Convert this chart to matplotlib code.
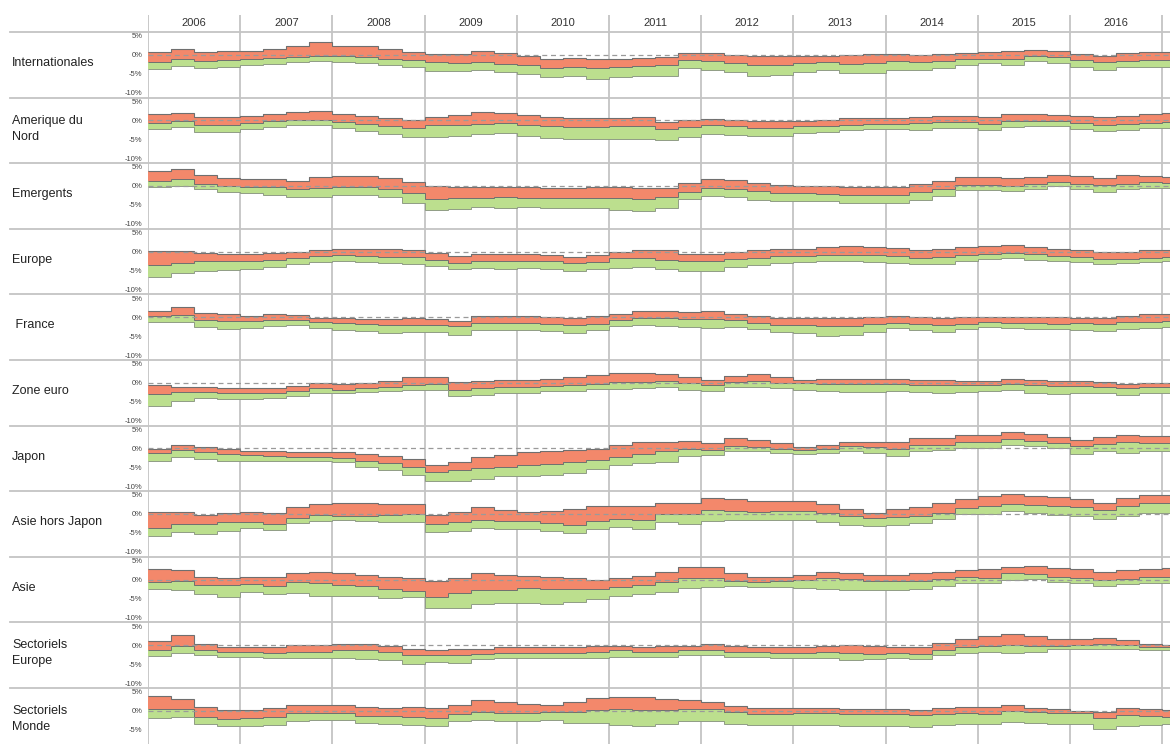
import numpy as np
import matplotlib
matplotlib.use("Agg")
import matplotlib.pyplot as plt
from matplotlib.transforms import blended_transform_factory
from matplotlib.lines import Line2D

plt.rcParams['font.family'] = ['Liberation Sans Narrow', 'Liberation Sans', 'DejaVu Sans']

years = list(range(2006, 2017))
ytick_vals = [5, 0, -5, -10]
ytick_labels = ['5%', '0%', '-5%', '-10%']

names = ['Internationales', 'Amerique du\nNord', 'Emergents', 'Europe', ' France',
         'Zone euro', 'Japon', 'Asie hors Japon', 'Asie', 'Sectoriels\nEurope',
         'Sectoriels\nMonde']

# quarterly values 2006Q1 .. 2017Q1 : top of salmon band, salmon/green boundary, bottom of green band
internationales_top = [0.8, 1.4, 0.6, 0.9, 0.9, 1.4, 2.2, 3.3, 2.3, 2.3, 1.6, 0.8, 0.2, 0.2, 0.9, 0.4,
                       -0.4, -1.0, -0.8, -1.1, -1.1, -0.9, -0.6, 0.4, 0.4, 0.0, -0.4, -0.4, -0.4, -0.4,
                       -0.1, 0.1, 0.2, 0.0, 0.1, 0.5, 0.6, 0.9, 1.2, 0.9, 0.2, -0.3, 0.4, 0.7, 0.7]
internationales_mid = [-1.8, -1.2, -1.6, -1.3, -1.0, -0.8, -0.6, -0.3, -0.4, -0.6, -1.0, -1.5, -1.8, -2.1,
                       -1.9, -2.4, -2.8, -3.4, -3.3, -3.6, -3.2, -2.9, -2.7, -1.3, -1.7, -2.3, -2.8, -2.6,
                       -2.2, -1.9, -2.5, -2.3, -1.6, -1.8, -1.6, -1.0, -1.0, -1.1, -0.3, -0.7, -1.3, -1.8,
                       -1.6, -1.5, -1.4]
internationales_bot = [-3.8, -3.0, -3.6, -3.2, -2.7, -2.4, -2.0, -1.6, -1.8, -2.1, -2.6, -3.2, -4.2, -4.2,
                       -3.9, -4.5, -5.0, -5.8, -5.6, -6.3, -5.9, -5.7, -5.6, -3.5, -3.9, -4.6, -5.5, -5.4,
                       -4.5, -4.1, -4.8, -4.7, -3.9, -4.0, -3.6, -2.7, -2.3, -2.6, -1.7, -2.2, -3.3, -4.0,
                       -3.2, -3.3, -3.2]

amerique_top = [1.8, 2.0, 0.8, 0.8, 1.1, 1.8, 2.2, 2.5, 1.7, 1.2, 0.6, 0.1, 0.8, 1.5, 2.1, 1.9,
                1.3, 1.0, 0.6, 0.6, 0.6, 0.8, -0.4, 0.0, 0.4, 0.0, -0.3, -0.2, -0.1, 0.2,
                0.5, 0.7, 0.7, 0.8, 1.1, 1.2, 0.9, 1.8, 1.6, 1.5, 1.1, 0.8, 1.1, 1.7, 1.9]
amerique_mid = [-0.6, -0.2, -1.2, -1.1, -0.8, -0.2, 0.2, 0.2, -0.4, -0.9, -1.5, -2.0, -1.3, -1.2, -0.9, -0.8,
                -1.2, -1.5, -1.7, -1.8, -1.4, -1.6, -2.2, -1.8, -1.3, -1.6, -1.9, -1.9, -1.6, -1.4,
                -1.2, -1.0, -0.9, -0.8, -0.5, -0.4, -1.0, -0.3, -0.1, -0.2, -0.8, -1.2, -1.0, -0.6, -0.4]
amerique_bot = [-2.4, -1.8, -3.1, -3.0, -2.4, -1.8, -1.3, -1.2, -1.9, -2.8, -3.6, -4.5, -4.4, -4.2, -3.6, -3.4,
                -4.0, -4.6, -5.0, -5.0, -4.8, -4.9, -5.3, -4.3, -3.5, -3.9, -4.1, -4.0, -3.3, -3.0,
                -2.6, -2.4, -2.4, -2.5, -2.1, -1.9, -2.5, -1.8, -1.6, -1.6, -2.2, -2.9, -2.6, -2.1, -2.0]

emergents_top = [3.9, 4.6, 2.9, 2.2, 1.9, 1.8, 1.3, 2.3, 2.6, 2.6, 2.2, 1.0, -0.1, -0.4, -0.3, -0.3,
                 -0.3, -0.6, -0.5, -0.3, -0.3, -0.5, -0.5, 0.9, 1.8, 1.6, 0.7, 0.2, 0.0, -0.1,
                 -0.3, -0.4, -0.2, 0.4, 1.3, 2.4, 2.4, 2.0, 2.4, 3.0, 2.5, 2.0, 2.8, 2.7, 2.4]
emergents_mid = [1.4, 1.8, 0.6, 0.0, -0.3, -0.4, -0.9, -0.6, -0.2, -0.2, -0.8, -1.9, -3.5, -3.3, -3.1, -3.0,
                 -3.2, -3.3, -3.3, -3.2, -3.3, -3.5, -3.0, -1.6, -0.6, -0.9, -1.4, -1.8, -1.9, -2.2,
                 -2.3, -2.3, -2.3, -1.6, -0.7, 0.2, 0.2, -0.1, 0.5, 1.0, 0.6, 0.2, 0.6, 1.0, 0.9]
emergents_bot = [-0.2, 0.1, -0.9, -1.5, -1.9, -2.3, -2.9, -2.8, -2.4, -2.4, -3.0, -4.5, -6.4, -6.2, -5.6, -5.8,
                 -5.6, -5.9, -5.9, -5.7, -6.3, -6.6, -5.9, -3.4, -2.7, -3.0, -3.6, -4.0, -3.9, -4.1,
                 -4.4, -4.4, -4.5, -3.6, -2.6, -1.1, -1.1, -1.4, -0.7, -0.1, -0.9, -1.5, -0.9, -0.6, -0.5]

europe_top = [0.2, 0.1, -0.4, -0.6, -0.6, -0.4, 0.0, 0.4, 0.7, 0.6, 0.8, 0.3, -0.3, -1.1, -0.6, -0.6,
              -0.7, -0.9, -1.4, -1.0, -0.1, 0.5, 0.4, -0.6, -0.7, -0.1, 0.3, 0.6, 0.8, 1.3,
              1.4, 1.2, 0.9, 0.5, 0.6, 1.1, 1.4, 1.8, 1.2, 0.8, 0.4, -0.1, -0.1, 0.3, 0.5]
europe_mid = [-3.6, -2.9, -2.6, -2.5, -2.5, -2.2, -1.7, -1.2, -1.0, -1.1, -1.4, -1.4, -2.3, -2.9, -2.6, -2.6,
              -2.4, -2.6, -2.9, -2.7, -1.8, -1.7, -2.2, -2.6, -2.6, -2.0, -1.6, -1.2, -1.2, -0.9,
              -0.8, -0.9, -1.2, -1.6, -1.5, -1.0, -0.6, -0.4, -0.7, -1.1, -1.5, -1.9, -1.9, -1.6, -1.5]
europe_bot = [-6.6, -5.6, -5.1, -4.9, -4.6, -4.1, -3.4, -2.8, -2.6, -2.7, -3.0, -3.2, -3.9, -4.7, -4.4, -4.5,
              -4.4, -4.7, -5.1, -4.7, -4.3, -4.2, -4.5, -5.2, -5.2, -4.0, -3.5, -3.1, -2.8, -2.6,
              -2.6, -2.7, -3.0, -3.4, -3.4, -2.6, -1.9, -1.7, -2.1, -2.4, -2.7, -3.2, -3.1, -2.7, -2.6]

france_top = [1.6, 2.8, 1.1, 0.7, 0.4, 0.7, 0.5, -0.1, -0.1, -0.4, -0.6, -0.3, -0.6, -0.9, 0.2, 0.3,
              0.3, 0.1, -0.2, 0.3, 0.9, 1.5, 1.5, 1.3, 1.6, 0.8, 0.2, -0.1, -0.1, -0.3,
              -0.3, 0.0, 0.3, 0.1, -0.3, 0.1, 0.1, 0.1, 0.1, 0.1, -0.1, -0.3, 0.3, 0.8, 0.8]
france_mid = [0.3, 0.6, -0.7, -1.1, -1.0, -0.7, -0.7, -1.4, -1.6, -1.9, -2.1, -2.0, -2.1, -2.4, -1.6, -1.6,
              -1.6, -1.8, -2.0, -1.8, -0.7, -0.3, -0.3, -0.4, -0.5, -0.8, -1.5, -2.0, -2.0, -2.4,
              -2.3, -1.9, -1.6, -1.8, -2.0, -1.7, -1.2, -1.5, -1.6, -1.8, -1.6, -1.9, -1.4, -1.2, -1.1]
france_bot = [-1.4, -1.3, -2.5, -3.0, -2.8, -2.3, -2.1, -2.8, -3.3, -3.7, -4.2, -4.0, -4.0, -4.8, -3.4, -3.3,
              -3.4, -3.7, -4.1, -3.4, -2.4, -2.0, -2.3, -2.7, -2.9, -2.5, -3.1, -3.9, -4.2, -5.0,
              -4.6, -3.8, -2.9, -3.3, -3.8, -3.1, -2.5, -2.9, -3.0, -3.2, -3.3, -3.6, -3.1, -2.8, -2.7]

zone_euro_top = [-0.7, -1.0, -1.2, -1.3, -1.4, -1.3, -0.8, -0.1, -0.3, -0.1, 0.4, 1.4, 1.6, 0.2, 0.4, 0.7,
                 0.8, 1.1, 1.6, 2.0, 2.5, 2.6, 2.2, 1.5, 0.8, 1.9, 2.3, 1.5, 0.8, 1.0,
                 0.9, 0.9, 1.0, 0.8, 0.7, 0.5, 0.5, 1.1, 0.6, 0.4, 0.4, 0.2, -0.4, -0.1, 0.0]
zone_euro_mid = [-3.0, -2.5, -2.5, -2.6, -2.7, -2.6, -2.1, -1.5, -1.8, -1.4, -1.0, -0.5, -0.4, -1.8, -1.5, -1.1,
                 -1.2, -0.9, -0.6, -0.2, 0.1, 0.3, 0.5, -0.1, -0.5, 0.1, 0.4, -0.1, -0.1, -0.3,
                 -0.3, -0.4, -0.4, -0.5, -0.6, -0.6, -0.6, -0.2, -0.7, -0.9, -0.9, -1.0, -1.4, -1.1, -1.0]
zone_euro_bot = [-6.2, -4.8, -4.1, -4.2, -4.2, -4.0, -3.4, -2.8, -2.7, -2.5, -2.2, -1.8, -1.9, -3.5, -3.2, -2.8,
                 -2.7, -2.3, -2.1, -1.6, -1.6, -1.4, -1.2, -1.8, -2.3, -1.2, -1.2, -1.5, -1.8, -2.2,
                 -2.4, -2.4, -2.2, -2.4, -2.6, -2.5, -2.3, -1.8, -2.6, -2.9, -2.7, -2.8, -3.1, -2.8, -2.7]

japon_top = [-0.2, 1.0, 0.4, -0.3, -0.6, -0.8, -0.9, -1.0, -1.0, -1.6, -2.1, -2.9, -4.3, -3.7, -2.4, -1.7,
             -1.0, -0.7, -0.5, -0.1, 1.0, 1.8, 1.8, 2.0, 1.5, 2.6, 2.1, 1.4, 0.3, 1.0,
             1.8, 1.6, 1.8, 2.8, 2.7, 3.5, 3.6, 4.3, 3.7, 2.9, 2.3, 3.0, 3.4, 3.3, 3.2]
japon_mid = [-1.3, -0.5, -0.9, -1.4, -1.7, -1.9, -2.2, -2.4, -2.6, -3.4, -3.9, -5.0, -6.2, -5.8, -5.1, -4.8,
             -4.3, -4.0, -3.6, -3.0, -2.2, -1.6, -0.8, -0.2, -0.4, 0.7, 0.3, -0.1, -0.5, -0.1,
             0.5, 0.4, -0.1, 1.0, 1.0, 1.7, 1.8, 2.5, 2.0, 1.5, 0.6, 1.2, 1.7, 1.5, 1.5]
japon_bot = [-3.3, -2.4, -2.9, -3.3, -3.4, -3.4, -3.4, -3.3, -3.5, -4.8, -5.7, -7.0, -8.7, -8.6, -8.1, -7.4,
             -7.4, -7.1, -6.5, -5.5, -4.4, -3.8, -3.6, -2.0, -1.7, -0.6, -0.8, -1.2, -1.5, -1.2,
             -0.8, -1.1, -1.9, -0.6, -0.4, 0.1, 0.1, 1.0, 0.5, 0.1, -1.5, -0.6, -1.1, -0.8, -0.6]

asie_hj_top = [0.5, 0.4, -0.2, 0.2, 0.5, 0.2, 1.8, 2.6, 2.9, 3.0, 2.6, 2.5, -0.2, 0.6, 1.9, 1.1,
               0.6, 0.8, 1.4, 2.0, 2.2, 2.2, 2.8, 3.0, 4.3, 4.0, 3.5, 3.4, 3.4, 2.5,
               1.3, 0.3, 1.3, 1.8, 2.8, 4.0, 4.7, 5.2, 4.8, 4.5, 4.0, 2.9, 4.2, 5.0, 5.0]
asie_hj_mid = [-3.6, -2.6, -2.7, -2.2, -2.2, -2.6, -1.0, -0.4, -0.5, -0.6, -0.3, 0.0, -2.6, -2.2, -1.7, -1.8,
               -1.8, -2.4, -2.8, -1.8, -1.2, -1.6, 0.1, 0.0, 1.0, 0.8, 0.6, 0.7, 0.7, 0.3,
               -0.6, -1.0, -0.9, -0.6, 0.3, 1.5, 2.0, 2.6, 2.3, 2.1, 1.9, 1.0, 2.0, 2.8, 2.8]
asie_hj_bot = [-5.9, -4.8, -5.4, -4.4, -3.7, -4.3, -2.3, -1.8, -1.6, -1.8, -2.0, -2.1, -4.8, -4.4, -3.6, -4.0,
               -4.1, -4.6, -5.0, -4.0, -3.5, -3.9, -2.2, -2.6, -1.9, -1.7, -1.7, -1.6, -1.6, -2.1,
               -2.8, -3.2, -3.0, -2.3, -1.2, 0.0, 0.0, 0.8, 0.2, -0.4, -0.5, -1.3, -0.5, 0.2, 0.3]

asie_top = [2.7, 2.4, 0.8, 0.5, 0.8, 0.8, 1.8, 1.9, 1.7, 1.3, 0.8, 0.5, -0.3, 0.4, 1.6, 1.2,
            0.9, 0.7, 0.3, -0.1, 0.5, 1.0, 1.9, 3.2, 3.3, 1.6, 0.6, 0.8, 1.1, 1.9,
            1.7, 1.3, 1.2, 1.6, 2.1, 2.5, 2.7, 3.4, 3.6, 3.0, 2.7, 1.9, 2.4, 2.9, 3.0]
asie_mid = [-0.6, -0.4, -1.4, -1.5, -1.3, -1.6, -0.7, -0.9, -1.4, -1.8, -2.5, -2.9, -4.7, -3.6, -2.8, -2.7,
            -2.3, -2.4, -2.5, -2.6, -1.9, -1.4, -0.6, 0.3, 0.4, -0.3, -0.6, -0.4, -0.2, 0.4,
            0.1, -0.3, -0.3, -0.3, 0.2, 0.6, 0.5, 1.6, 1.4, 0.8, 0.5, -0.1, 0.2, 0.6, 0.6]
asie_bot = [-2.6, -2.8, -3.7, -4.5, -3.3, -3.8, -3.5, -4.3, -4.3, -4.3, -4.8, -4.7, -7.5, -7.6, -6.5, -6.3,
            -6.1, -6.4, -5.8, -5.2, -4.4, -3.8, -3.2, -2.1, -1.9, -1.8, -2.0, -1.9, -2.3, -2.6,
            -2.7, -2.8, -2.8, -2.6, -1.6, -1.0, -1.0, 0.0, 0.2, -0.7, -1.0, -1.8, -1.2, -1.0, -1.0]

sect_eu_top = [1.2, 2.8, 0.2, -0.4, -0.4, -0.5, 0.0, 0.1, 0.3, 0.4, -0.2, -1.1, -1.3, -1.0, -0.9, -0.6,
               -0.6, -0.5, -0.4, -0.2, -0.1, -0.4, -0.3, -0.1, 0.2, -0.2, -0.4, -0.5, -0.4, -0.1,
               0.0, -0.2, -0.4, -0.6, 0.6, 1.7, 2.3, 2.9, 2.5, 1.6, 1.5, 1.9, 1.4, 0.4, 0.0]
sect_eu_mid = [-1.4, -0.3, -1.2, -1.7, -1.8, -2.1, -1.9, -1.7, -1.4, -1.3, -1.9, -2.7, -2.7, -2.6, -2.3, -2.2,
               -2.2, -2.2, -2.0, -1.9, -1.4, -1.7, -1.8, -1.4, -1.3, -1.8, -1.8, -2.1, -2.1, -1.7,
               -2.0, -2.3, -2.2, -2.4, -1.3, -0.6, -0.3, 0.0, -0.2, -0.3, 0.1, 0.4, 0.0, -0.6, -0.6]
sect_eu_bot = [-2.8, -2.0, -2.5, -3.0, -3.1, -3.5, -3.5, -3.4, -3.5, -3.6, -4.0, -4.9, -4.5, -4.7, -3.6, -3.5,
               -3.5, -3.5, -3.5, -3.4, -3.0, -3.0, -3.0, -2.6, -2.6, -3.1, -3.1, -3.4, -3.5, -3.4,
               -3.8, -3.7, -3.5, -3.6, -2.7, -2.1, -1.9, -2.0, -1.8, -1.1, -1.1, -0.9, -1.1, -1.4, -1.4]

sect_monde_top = [3.8, 3.2, 0.9, 0.2, 0.2, 0.8, 1.6, 1.6, 1.5, 0.9, 0.8, 0.9, 0.6, 1.6, 2.9, 2.2,
                  1.9, 1.5, 2.4, 3.3, 3.6, 3.5, 3.0, 2.9, 2.4, 1.3, 0.6, 0.6, 0.6, 0.6,
                  0.4, 0.5, 0.5, 0.2, 0.7, 0.9, 1.0, 1.4, 0.6, 0.4, 0.0, -0.4, 0.8, 0.5, 0.2]
sect_monde_mid = [0.5, 0.5, -1.6, -2.1, -1.8, -1.6, -0.6, -0.6, -0.6, -1.3, -1.5, -1.6, -1.8, -0.8, -0.3, -0.5,
                  -0.5, -0.3, -0.3, 0.1, 0.4, 0.2, 0.2, 0.4, 0.5, -0.4, -0.8, -0.8, -0.7, -0.7,
                  -0.9, -0.9, -0.9, -1.1, -0.8, -0.6, -0.8, 0.0, -0.3, -0.5, -0.6, -2.0, -1.2, -1.5, -1.6]
sect_monde_bot = [-2.0, -1.7, -3.4, -4.1, -3.9, -3.7, -2.6, -2.5, -2.5, -3.1, -3.5, -3.8, -4.0, -2.8, -2.4, -2.8,
                  -2.8, -2.5, -3.2, -3.2, -3.8, -4.0, -3.6, -2.7, -2.6, -3.4, -3.8, -3.8, -3.8, -3.8,
                  -4.1, -4.1, -4.1, -4.2, -3.8, -3.6, -3.4, -2.9, -3.3, -3.4, -3.5, -4.8, -4.0, -3.7, -3.4]

tops = [internationales_top, amerique_top, emergents_top, europe_top, france_top, zone_euro_top,
        japon_top, asie_hj_top, asie_top, sect_eu_top, sect_monde_top]
mids = [internationales_mid, amerique_mid, emergents_mid, europe_mid, france_mid, zone_euro_mid,
        japon_mid, asie_hj_mid, asie_mid, sect_eu_mid, sect_monde_mid]
bots = [internationales_bot, amerique_bot, emergents_bot, europe_bot, france_bot, zone_euro_bot,
        japon_bot, asie_hj_bot, asie_bot, sect_eu_bot, sect_monde_bot]

W, H = 1170, 744
x_left = 148
px_per_year = 92.2
x_max = 2006 + (W - x_left) / px_per_year
row_top0 = 32
row_h = 65.6
header_top = 15

salmon = '#f3886b'
green = '#bcdf8e'
edge = '#6f6f6f'
gridc = '#c4c4c4'

fig = plt.figure(figsize=(W / 100, H / 100), dpi=100)

# background axes for the year lines / header
bg = fig.add_axes([x_left / W, 0, 1 - x_left / W, 1 - header_top / H])
bg.set_xlim(2006, x_max)
bg.set_ylim(0, 1)
bg.axis('off')
for yr in years + [2017]:
    bg.axvline(yr, color=gridc, lw=1.3, zorder=0)
tr = blended_transform_factory(bg.transData, fig.transFigure)
for yr in years:
    bg.text(yr + 0.5, 1 - 23 / H, str(yr), transform=tr, ha='center', va='center',
            fontsize=8, color='#333333')

edges = 2006 + 0.25 * np.arange(46)

for i in range(len(names)):
    top_px = row_top0 + row_h * i
    ax = fig.add_axes([x_left / W, 1 - (top_px + row_h) / H, 1 - x_left / W, row_h / H])
    ax.patch.set_alpha(0)
    ax.set_xlim(2006, x_max)
    ax.set_ylim(-11.3, 6.0)
    t = np.array(tops[i])
    m = np.array(mids[i])
    b = np.array(bots[i])
    ax.stairs(t, edges, baseline=m, fill=True, color=salmon, lw=0, zorder=2)
    ax.stairs(m, edges, baseline=b, fill=True, color=green, lw=0, zorder=2)
    ax.stairs(t, edges, baseline=None, color=edge, lw=0.8, zorder=3)
    ax.stairs(m, edges, baseline=None, color=edge, lw=0.7, zorder=3)
    ax.stairs(b, edges, baseline=None, color='#8f9c84', lw=0.7, zorder=3)
    ax.axhline(0, color='#9a9a9a', lw=0.9, ls=(0, (4, 3)), zorder=4)
    ax.set_yticks(ytick_vals)
    ax.set_yticklabels(ytick_labels)
    ax.tick_params(axis='y', length=0, pad=4, labelsize=5.5, labelcolor='#444444')
    ax.set_xticks([])
    for s in ax.spines.values():
        s.set_visible(False)
    # row separator
    fig.add_artist(Line2D([10 / W, 1], [1 - top_px / H, 1 - top_px / H],
                          color=gridc, lw=1.3, transform=fig.transFigure, zorder=1))
    fig.text(12 / W, 1 - (top_px + 31) / H, names[i], ha='left', va='center',
             fontsize=9, color='#222222', linespacing=1.45)

fig.savefig('out.png', dpi=100)
